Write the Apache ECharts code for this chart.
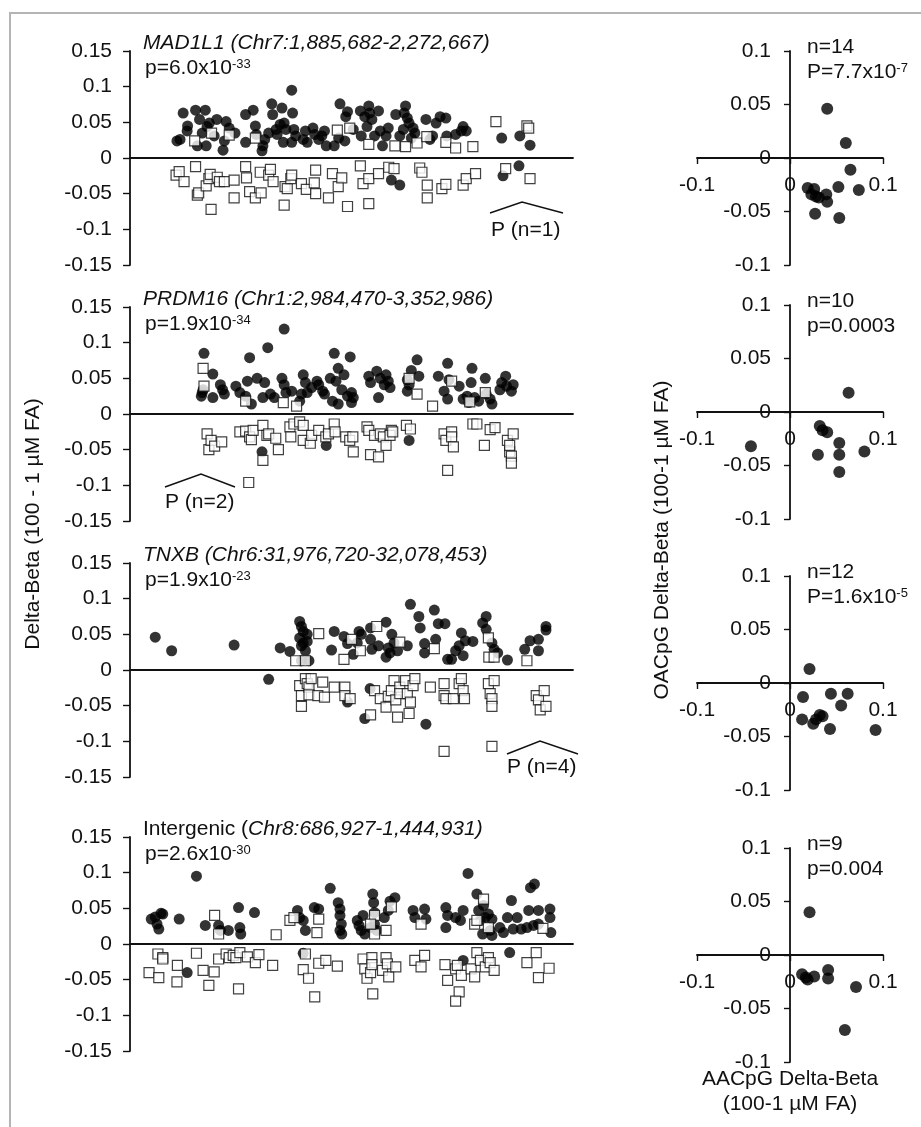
<!DOCTYPE html>
<html><head><meta charset="utf-8">
<script src="https://cdn.jsdelivr.net/npm/echarts@6/dist/echarts.min.js"></script>
<style>html,body{margin:0;padding:0;background:#fff}#c{width:921px;height:1127px}</style>
</head><body><div id="c"></div>
<script>
// ---------- DATA ----------
// Left panels: x = relative genomic position (0-100 across the region), y = delta-beta
const circlesP1 = [[10.6,0.024],[12.0,0.063],[11.3,0.026],[13.0,0.045],[12.9,0.038],[14.8,0.067],[15.2,0.017],[15.7,0.054],[16.3,0.035],[17.0,0.067],[17.2,0.017],[17.4,0.044],[17.9,0.049],[19.0,0.031],[19.6,0.054],[21.0,0.011],[21.3,0.024],[21.7,0.051],[22.4,0.042],[23.7,0.035],[26.1,0.061],[26.1,0.022],[27.8,0.067],[28.3,0.045],[28.5,0.033],[29.8,0.010],[30.0,0.017],[30.4,0.026],[31.3,0.035],[32.0,0.076],[32.2,0.061],[33.0,0.040],[33.2,0.033],[33.9,0.047],[34.3,0.070],[34.6,0.022],[34.8,0.049],[35.2,0.040],[36.5,0.095],[36.7,0.063],[36.5,0.022],[37.0,0.040],[37.4,0.031],[39.1,0.026],[39.6,0.038],[40.0,0.022],[41.3,0.042],[41.7,0.033],[42.6,0.026],[43.3,0.031],[43.9,0.038],[44.3,0.017],[46.1,0.017],[47.1,0.028],[47.4,0.076],[48.7,0.058],[48.5,0.024],[49.1,0.065],[50.4,0.040],[52.2,0.031],[52.0,0.066],[53.0,0.058],[53.5,0.044],[53.9,0.073],[54.1,0.063],[54.6,0.054],[55.2,0.031],[56.1,0.066],[56.5,0.038],[57.0,0.017],[57.8,0.031],[58.3,0.042],[60.0,0.061],[60.9,0.031],[61.7,0.040],[61.9,0.063],[62.2,0.073],[62.6,0.056],[63.0,0.049],[63.5,0.028],[63.9,0.042],[64.3,0.035],[66.8,0.054],[67.7,0.026],[68.3,0.031],[69.1,0.049],[70.0,0.058],[71.3,0.056],[71.5,0.031],[73.5,0.033],[74.8,0.038],[75.2,0.044],[75.9,0.038],[83.9,0.028],[88.0,0.031],[90.3,0.018],[59.0,-0.031],[60.9,-0.038],[84.2,-0.025],[87.8,-0.011]];
const squaresP1 = [[18.4,0.035],[14.6,0.024],[22.4,0.032],[28.3,0.028],[46.8,0.039],[49.6,0.042],[53.9,0.019],[59.8,0.017],[62.2,0.016],[64.8,0.021],[67.0,0.030],[71.3,0.022],[73.5,0.014],[77.4,0.016],[82.6,0.051],[89.6,0.045],[90.0,0.042],[10.4,-0.024],[11.1,-0.019],[12.2,-0.033],[14.8,-0.012],[15.2,-0.052],[15.5,-0.049],[17.2,-0.039],[17.8,-0.029],[18.1,-0.023],[18.3,-0.072],[19.7,-0.027],[20.2,-0.033],[21.3,-0.033],[23.5,-0.031],[23.5,-0.056],[26.1,-0.012],[26.3,-0.028],[27.0,-0.047],[28.3,-0.056],[29.4,-0.020],[29.6,-0.049],[31.3,-0.024],[31.7,-0.016],[32.3,-0.033],[34.8,-0.066],[35.0,-0.040],[35.5,-0.043],[36.3,-0.029],[36.5,-0.024],[38.7,-0.036],[39.8,-0.044],[41.6,-0.035],[41.9,-0.050],[41.9,-0.017],[44.8,-0.056],[45.7,-0.022],[47.0,-0.040],[47.8,-0.028],[49.1,-0.068],[52.0,-0.011],[52.6,-0.036],[53.9,-0.029],[53.9,-0.064],[56.1,-0.022],[58.4,-0.013],[59.6,-0.015],[65.4,-0.014],[65.9,-0.020],[67.1,-0.038],[67.1,-0.056],[70.4,-0.043],[71.3,-0.037],[75.2,-0.038],[75.9,-0.029],[78.0,-0.022],[84.8,-0.015],[90.3,-0.029]];

const circlesP2 = [[16.7,0.085],[16.3,0.030],[16.1,0.025],[16.5,0.034],[18.7,0.056],[18.7,0.023],[20.4,0.041],[20.9,0.034],[21.3,0.028],[23.9,0.039],[24.8,0.030],[26.1,0.025],[26.5,0.046],[27.0,0.079],[27.4,0.014],[28.7,0.050],[30.0,0.023],[30.4,0.044],[31.1,0.093],[31.7,0.028],[32.6,0.023],[34.8,0.119],[34.3,0.050],[34.8,0.041],[35.2,0.030],[36.5,0.032],[38.3,0.018],[38.7,0.028],[39.1,0.055],[39.6,0.044],[40.0,0.030],[41.0,0.037],[42.2,0.046],[42.6,0.041],[43.5,0.032],[43.9,0.028],[45.2,0.050],[45.7,0.018],[46.1,0.085],[46.5,0.046],[47.0,0.064],[47.0,0.014],[47.8,0.034],[48.3,0.055],[49.1,0.025],[49.7,0.080],[50.0,0.030],[50.0,0.016],[50.4,0.023],[53.9,0.053],[54.3,0.044],[55.7,0.060],[56.1,0.023],[56.5,0.050],[57.4,0.041],[57.8,0.055],[58.3,0.046],[58.7,0.037],[62.6,0.048],[62.6,0.032],[63.0,0.041],[63.5,0.061],[64.8,0.076],[65.2,0.053],[69.6,0.053],[70.9,0.032],[71.7,0.021],[71.7,0.071],[72.0,0.048],[74.3,0.039],[75.2,0.021],[76.1,0.025],[76.5,0.016],[77.0,0.044],[77.2,0.064],[77.8,0.023],[78.7,0.018],[80.2,0.050],[80.4,0.028],[81.3,0.021],[81.7,0.014],[83.5,0.034],[83.9,0.044],[84.8,0.053],[85.0,0.039],[86.1,0.032],[86.5,0.041],[29.8,-0.053],[44.3,-0.044],[63.0,-0.037]];
const squaresP2 = [[16.5,0.064],[16.7,0.039],[26.1,0.018],[34.6,0.016],[37.6,0.011],[63.0,0.050],[64.8,0.028],[68.3,0.011],[72.6,0.046],[76.7,0.017],[80.2,0.030],[17.4,-0.028],[17.8,-0.050],[18.3,-0.037],[19.1,-0.045],[20.7,-0.039],[24.8,-0.025],[26.1,-0.024],[27.0,-0.032],[27.4,-0.036],[27.8,-0.023],[30.0,-0.016],[30.0,-0.065],[30.9,-0.030],[31.3,-0.028],[32.9,-0.034],[33.5,-0.050],[26.8,-0.096],[36.1,-0.018],[36.3,-0.032],[37.0,-0.014],[38.3,-0.011],[39.1,-0.016],[39.1,-0.037],[40.7,-0.041],[41.0,-0.030],[42.6,-0.023],[44.2,-0.032],[44.8,-0.028],[46.1,-0.014],[46.3,-0.025],[48.7,-0.032],[49.6,-0.037],[50.3,-0.032],[50.4,-0.053],[53.5,-0.018],[53.9,-0.023],[54.3,-0.057],[55.2,-0.030],[56.1,-0.060],[56.5,-0.028],[57.2,-0.032],[57.8,-0.044],[59.0,-0.023],[58.7,-0.030],[59.3,-0.025],[62.4,-0.016],[63.3,-0.021],[70.9,-0.028],[71.3,-0.037],[71.7,-0.079],[72.6,-0.025],[72.6,-0.032],[73.0,-0.046],[77.4,-0.014],[78.3,-0.014],[80.0,-0.044],[81.3,-0.022],[82.4,-0.019],[85.2,-0.037],[85.7,-0.053],[86.1,-0.059],[86.1,-0.069],[86.5,-0.028],[85.7,-0.044]];

const circlesP3 = [[5.7,0.046],[9.4,0.027],[23.5,0.035],[33.9,0.031],[36.1,0.026],[38.3,0.068],[38.7,0.061],[39.1,0.054],[38.3,0.045],[39.1,0.038],[40.0,0.050],[39.6,0.027],[40.4,0.013],[38.7,0.013],[40.0,0.040],[38.7,0.034],[45.5,0.028],[46.1,0.054],[48.3,0.047],[49.1,0.037],[50.4,0.022],[51.3,0.038],[51.7,0.054],[52.2,0.050],[54.3,0.059],[54.3,0.043],[54.6,0.029],[56.1,0.034],[57.8,0.067],[58.3,0.031],[57.8,0.018],[58.7,0.024],[59.1,0.050],[59.6,0.038],[60.4,0.027],[62.6,0.034],[63.3,0.092],[65.2,0.075],[65.5,0.059],[66.5,0.037],[66.5,0.024],[68.7,0.084],[69.0,0.043],[69.6,0.065],[71.1,0.065],[71.7,0.015],[72.6,0.015],[73.5,0.027],[74.3,0.034],[74.8,0.052],[75.2,0.020],[75.7,0.041],[77.4,0.040],[79.6,0.066],[80.4,0.075],[80.4,0.057],[81.7,0.038],[82.2,0.029],[83.0,0.024],[85.2,0.014],[89.1,0.029],[90.3,0.041],[92.2,0.027],[92.2,0.043],[93.9,0.061],[93.9,0.056],[31.3,-0.013],[53.0,-0.068],[54.2,-0.026],[66.8,-0.076],[49.1,-0.045]];
const squaresP3 = [[37.4,0.013],[39.6,0.013],[42.6,0.051],[48.3,0.015],[50.0,0.043],[52.0,0.027],[55.7,0.061],[60.9,0.039],[68.7,0.030],[80.9,0.045],[81.0,0.018],[82.2,0.018],[89.6,0.013],[38.3,-0.022],[38.7,-0.036],[38.7,-0.051],[39.6,-0.012],[40.0,-0.019],[40.4,-0.024],[40.4,-0.035],[40.9,-0.012],[42.4,-0.036],[43.5,-0.017],[43.9,-0.038],[46.1,-0.024],[48.5,-0.024],[48.5,-0.036],[49.7,-0.040],[54.3,-0.063],[55.2,-0.029],[56.5,-0.040],[57.8,-0.052],[58.3,-0.037],[59.0,-0.029],[59.6,-0.015],[60.0,-0.042],[60.4,-0.066],[60.9,-0.024],[60.9,-0.033],[62.2,-0.015],[62.6,-0.033],[63.0,-0.061],[63.3,-0.045],[63.9,-0.022],[64.3,-0.012],[67.8,-0.024],[70.9,-0.019],[70.9,-0.036],[71.3,-0.040],[70.9,-0.114],[73.0,-0.040],[74.3,-0.019],[74.8,-0.012],[75.2,-0.029],[75.5,-0.040],[80.9,-0.019],[81.3,-0.033],[81.7,-0.040],[81.7,-0.051],[82.2,-0.015],[81.7,-0.107],[91.7,-0.036],[92.2,-0.042],[92.6,-0.056],[93.5,-0.029],[93.9,-0.051]];

const circlesP4 = [[4.8,0.035],[5.7,0.038],[6.5,0.021],[7.0,0.043],[7.4,0.042],[6.1,0.028],[11.1,0.035],[15.0,0.095],[17.0,0.026],[20.0,0.026],[20.4,0.019],[22.2,0.019],[24.5,0.051],[24.8,0.023],[25.0,0.014],[28.1,0.044],[37.8,0.047],[38.3,0.037],[39.1,0.033],[39.6,0.019],[41.6,0.051],[42.6,0.049],[45.2,0.078],[47.0,0.058],[47.4,0.049],[47.4,0.040],[47.7,0.028],[47.4,0.019],[47.8,0.014],[51.3,0.033],[51.7,0.026],[52.6,0.040],[52.2,0.019],[53.0,0.014],[54.3,0.023],[54.8,0.070],[55.0,0.058],[55.2,0.044],[55.2,0.028],[55.7,0.019],[57.4,0.037],[58.3,0.047],[58.7,0.060],[59.8,0.065],[63.9,0.047],[64.3,0.037],[66.5,0.049],[66.8,0.035],[71.3,0.051],[71.3,0.023],[71.7,0.040],[73.5,0.037],[74.6,0.033],[75.2,0.047],[76.3,0.099],[78.3,0.070],[78.7,0.047],[79.1,0.033],[79.6,0.014],[79.8,0.054],[80.2,0.037],[80.9,0.042],[81.3,0.019],[81.7,0.012],[81.7,0.035],[83.5,0.023],[84.3,0.016],[85.2,0.037],[86.1,0.061],[86.5,0.021],[87.4,0.037],[88.3,0.021],[89.6,0.023],[90.0,0.047],[90.4,0.079],[91.3,0.084],[91.1,0.026],[92.2,0.047],[92.2,0.028],[94.8,0.049],[94.8,0.037],[95.0,0.016],[12.9,-0.040],[39.1,-0.013],[85.7,-0.012],[75.2,-0.023]];
const squaresP4 = [[19.1,0.040],[20.0,0.014],[33.0,0.013],[36.1,0.033],[37.0,0.037],[42.6,0.035],[42.2,0.016],[55.2,0.040],[55.2,0.014],[54.3,0.028],[57.8,0.019],[59.0,0.052],[65.7,0.028],[77.8,0.028],[78.3,0.033],[79.8,0.063],[80.9,0.023],[93.2,0.022],[4.3,-0.040],[6.3,-0.014],[7.4,-0.019],[6.5,-0.047],[7.4,-0.021],[10.7,-0.030],[10.6,-0.053],[15.0,-0.013],[16.5,-0.037],[17.8,-0.058],[19.0,-0.039],[20.0,-0.021],[21.7,-0.014],[22.4,-0.019],[23.3,-0.016],[23.9,-0.019],[24.8,-0.012],[24.5,-0.063],[26.5,-0.018],[28.3,-0.026],[29.1,-0.015],[32.2,-0.030],[39.6,-0.014],[39.1,-0.036],[40.3,-0.048],[41.7,-0.074],[42.6,-0.027],[44.2,-0.023],[46.8,-0.031],[52.6,-0.021],[53.0,-0.035],[53.5,-0.048],[54.3,-0.040],[54.6,-0.019],[54.6,-0.029],[54.8,-0.070],[57.0,-0.037],[57.8,-0.019],[58.1,-0.028],[58.4,-0.046],[60.0,-0.032],[64.3,-0.023],[65.7,-0.032],[66.5,-0.016],[71.1,-0.029],[71.7,-0.051],[73.5,-0.035],[73.9,-0.030],[74.3,-0.067],[73.5,-0.080],[74.8,-0.044],[77.0,-0.035],[77.8,-0.046],[78.3,-0.012],[79.1,-0.023],[80.2,-0.032],[80.9,-0.019],[81.3,-0.026],[82.2,-0.037],[89.6,-0.026],[91.7,-0.012],[92.2,-0.047],[94.6,-0.034]];

// Right panels: x = AACpG delta-beta, y = OACpG delta-beta
const pairsR1 = [[0.040,0.046],[0.060,0.014],[0.065,-0.011],[0.019,-0.028],[0.026,-0.029],[0.023,-0.034],[0.028,-0.036],[0.031,-0.037],[0.039,-0.034],[0.040,-0.041],[0.052,-0.027],[0.074,-0.030],[0.027,-0.052],[0.053,-0.056]];
const pairsR2 = [[-0.042,-0.032],[0.063,0.018],[0.032,-0.013],[0.035,-0.017],[0.040,-0.019],[0.030,-0.040],[0.053,-0.029],[0.053,-0.040],[0.053,-0.056],[0.080,-0.037]];
const pairsR3 = [[0.021,0.013],[0.014,-0.013],[0.044,-0.010],[0.062,-0.010],[0.055,-0.021],[0.013,-0.034],[0.025,-0.038],[0.028,-0.034],[0.032,-0.030],[0.035,-0.031],[0.043,-0.043],[0.092,-0.044]];
const pairsR4 = [[0.021,0.040],[0.013,-0.018],[0.017,-0.021],[0.019,-0.023],[0.026,-0.020],[0.041,-0.014],[0.041,-0.022],[0.071,-0.030],[0.059,-0.070]];

const panelTitles = ['MAD1L1 (Chr7:1,885,682-2,272,667)','PRDM16 (Chr1:2,984,470-3,352,986)','TNXB (Chr6:31,976,720-32,078,453)','Chr8:686,927-1,444,931)'];
const panelP = [['6.0x10','-33'],['1.9x10','-34'],['1.9x10','-23'],['2.6x10','-30']];
const rightN = ['n=14','n=10','n=12','n=9'];
const rightP = [['P=7.7x10','-7'],['p=0.0003',''],['P=1.6x10','-5'],['p=0.004','']];
const leftTickStep = 0.05, leftMin = -0.15, leftMax = 0.15;
const rightYStep = 0.05, rightMin = -0.1, rightMax = 0.1, rightXStep = 0.1;

// ---------- LAYOUT ----------
const FONT = 'Liberation Sans, Arial, Helvetica, sans-serif';
const FS = 21;
const INK = '#111';
const leftZero = [158, 414, 670, 944];
const rightZero = [158, 412, 683, 955];
const HALF = 107;
const LX = 130, LW = 443;
const RX = 697, RW = 186;

const grids = [], xAxes = [], yAxes = [], series = [];
const fmt = v => String(+v.toFixed(3));
const lbl = { fontSize: FS, fontFamily: FONT, color: INK, formatter: fmt };

for (let i = 0; i < 4; i++) {
  grids.push({ left: LX, top: leftZero[i] - HALF, width: LW, height: 2 * HALF });
  xAxes.push({ gridIndex: i, type: 'value', min: 0, max: 100,
    axisLine: { show: true, onZero: true, lineStyle: { color: INK, width: 1.8 } },
    axisTick: { show: false }, axisLabel: { show: false }, splitLine: { show: false } });
  yAxes.push({ gridIndex: i, type: 'value', min: leftMin, max: leftMax, interval: leftTickStep,
    axisLine: { show: true, onZero: false, lineStyle: { color: INK, width: 1.8 } },
    axisTick: { show: true, inside: false, length: 7, lineStyle: { color: INK, width: 1.4 } },
    axisLabel: Object.assign({ margin: 18 }, lbl),
    splitLine: { show: false } });
}
for (let i = 0; i < 4; i++) {
  const g = 4 + i;
  grids.push({ left: RX, top: rightZero[i] - HALF, width: RW, height: 2 * HALF });
  xAxes.push({ gridIndex: g, type: 'value', min: rightMin, max: rightMax, interval: rightXStep,
    position: 'bottom', offset: -HALF,
    axisLine: { show: true, onZero: false, lineStyle: { color: INK, width: 1.8 } },
    axisTick: { show: true, inside: false, length: 6, lineStyle: { color: INK, width: 1.4 } },
    axisLabel: Object.assign({ margin: 17 }, lbl),
    splitLine: { show: false } });
  yAxes.push({ gridIndex: g, type: 'value', min: rightMin, max: rightMax, interval: rightYStep,
    position: 'left', offset: -RW / 2,
    axisLine: { show: true, onZero: false, lineStyle: { color: INK, width: 1.8 } },
    axisTick: { show: true, inside: false, length: 6, lineStyle: { color: INK, width: 1.4 } },
    axisLabel: Object.assign({ margin: 19 }, lbl),
    splitLine: { show: false } });
}

const circleStyle = { symbol: 'circle', symbolSize: 11, itemStyle: { color: '#000' } };
const squareStyle = { symbol: 'rect', symbolSize: 10, itemStyle: { color: '#fff', borderColor: '#111', borderWidth: 1.2 } };
const circleSets = [circlesP1, circlesP2, circlesP3, circlesP4];
const squareSets = [squaresP1, squaresP2, squaresP3, squaresP4];
const rightSets = [pairsR1, pairsR2, pairsR3, pairsR4];
for (let i = 0; i < 4; i++) {
  series.push(Object.assign({ type: 'scatter', xAxisIndex: i, yAxisIndex: i, data: circleSets[i], z: 2 }, circleStyle));
  series.push(Object.assign({ type: 'scatter', xAxisIndex: i, yAxisIndex: i, data: squareSets[i], z: 3 }, squareStyle));
  series.push(Object.assign({ type: 'scatter', xAxisIndex: 4 + i, yAxisIndex: 4 + i, data: rightSets[i], z: 2 }, circleStyle, { symbolSize: 12 }));
}

// ---------- TEXT / ANNOTATIONS ----------
const rich = {
  n: { fontSize: FS, fontFamily: FONT, color: INK },
  i: { fontSize: FS, fontFamily: FONT, color: INK, fontStyle: 'italic' },
  s: { fontSize: 13, fontFamily: FONT, color: INK, verticalAlign: 'top' }
};
function txt(x, y, text, extra) {
  return { type: 'text', x, y, silent: true, z: 10,
    style: Object.assign({ text, rich, fontSize: FS, fontFamily: FONT, fill: INK, align: 'left', verticalAlign: 'middle' }, extra || {}) };
}
const graphics = [];
graphics.push({ type: 'rect', shape: { x: 10, y: 13, width: 1000, height: 1300 }, style: { fill: null, stroke: '#b4b4b4', lineWidth: 2 }, silent: true, z: 0 });
for (let i = 0; i < 4; i++) {
  const top = leftZero[i] - HALF;
  const title = i === 3 ? '{n|Intergenic (}{i|' + panelTitles[3] + '}' : '{i|' + panelTitles[i] + '}';
  graphics.push(txt(143, top - 8, title));
  graphics.push(txt(145, top + 17, '{n|p=' + panelP[i][0] + '}{s|' + panelP[i][1] + '}'));
  const rtop = rightZero[i] - HALF;
  graphics.push(txt(807, rtop - 4, '{n|' + rightN[i] + '}'));
  graphics.push(txt(807, rtop + 21, '{n|' + rightP[i][0] + '}' + (rightP[i][1] ? '{s|' + rightP[i][1] + '}' : '')));
}
// P (n=...) annotations with hat marks (offsets from each panel's zero line)
const hats = [
  { p: 0, xs: [490, 522, 563], dy: [55, 44, 55], tx: 491, ty: 72, t: 'P (n=1)' },
  { p: 1, xs: [165, 201, 235], dy: [73, 60, 73], tx: 165, ty: 88, t: 'P (n=2)' },
  { p: 2, xs: [507, 540, 578], dy: [84, 71, 84], tx: 507, ty: 97, t: 'P (n=4)' }
];
hats.forEach(h => {
  const z0 = leftZero[h.p];
  graphics.push({ type: 'polyline', shape: { points: h.xs.map((x, k) => [x, z0 + h.dy[k]]) }, style: { stroke: INK, lineWidth: 1.5, fill: null }, silent: true, z: 10 });
  graphics.push(txt(h.tx, z0 + h.ty, '{n|' + h.t + '}'));
});
// axis titles
const yl = txt(33, 524, '{n|Delta-Beta (100 - 1 µM FA)}', { align: 'center' });
yl.rotation = Math.PI / 2; graphics.push(yl);
const yr = txt(662, 540, '{n|OACpG Delta-Beta (100-1 µM FA)}', { align: 'center' });
yr.rotation = Math.PI / 2; graphics.push(yr);
graphics.push(txt(790, 1079, '{n|AACpG Delta-Beta}', { align: 'center' }));
graphics.push(txt(790, 1104, '{n|(100-1 µM FA)}', { align: 'center' }));

const chart = echarts.init(document.getElementById('c'), null, { renderer: 'canvas' });
chart.setOption({
  animation: false,
  backgroundColor: '#ffffff',
  grid: grids, xAxis: xAxes, yAxis: yAxes, series,
  graphic: { elements: graphics }
});
</script></body></html>
